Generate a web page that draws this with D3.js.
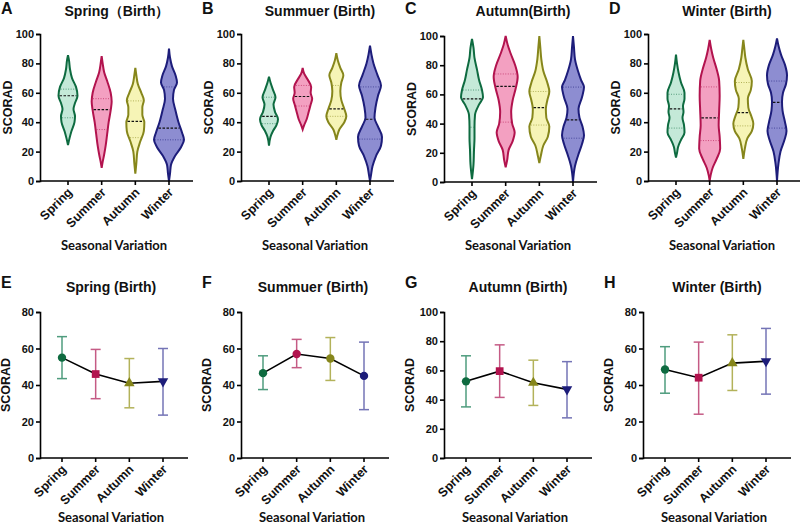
<!DOCTYPE html>
<html>
<head>
<meta charset="utf-8">
<script src="https://cdn.jsdelivr.net/npm/d3@7"></script>
<style>
  body { margin: 0; background: #fff; }
  svg { display: block; }
</style>
</head>
<body>
<div id="chart"></div>
<script>
const width = 800
const height = 526

const seasons = ["Spring", "Summer", "Autumn", "Winter"]
const violinTitles = ["Spring（Birth）", "Summuer (Birth)", "Autumn(Birth)", "Winter (Birth)"]
const lineTitles = ["Spring (Birth)", "Summuer (Birth)", "Autumn (Birth)", "Winter (Birth)"]
const violinLetters = ["A", "B", "C", "D"]
const lineLetters = ["E", "F", "G", "H"]

// violin outlines: [SCORAD, half width] from top to bottom
const violinsA = [
  [[85.5,0],[82,1],[76,2],[70,4],[64,8],[58,9.5],[53,7],[49,5.5],[44,7],[40,6.5],[34,3.5],[29,1.5],[24.5,0]],
  [[85,0],[80,1],[74,2.5],[68,5.5],[60,9],[54,10],[48,9],[40,7],[32,5.5],[24,4],[18,2.5],[13,1],[9,0]],
  [[77,0],[72,1],[66,2.5],[60,6],[55,8.5],[50,7],[45,7],[40,9],[34,8.5],[27,5],[20,2],[12,1],[5,0]],
  [[90,0],[84,1],[78,3],[72,6.5],[67,8],[62,5],[56,4],[48,6.5],[40,9.5],[33,13],[28,15],[23,12],[17,6],[11,2],[5,1],[0,0]]
]
const violinsB = [
  [[71,0],[67,1.5],[62,4],[57,6.5],[52,4.5],[47,6],[42,9],[38,7.5],[34,4],[30,1.5],[24,0]],
  [[77,0],[73,1.5],[69,5],[64,8.5],[60,8],[56,9.5],[52,8],[47,6],[42,4],[38,1.5],[35,0]],
  [[87,0],[82,1.5],[77,4],[72,7],[67,5],[61,4],[55,5],[49,8],[44,10],[40,8],[35,3],[31,1],[28,0]],
  [[92,0],[86,1.5],[80,3.5],[72,7.5],[65,11],[58,8],[50,5.5],[43,4.5],[37,8],[30,12],[24,11],[17,6],[10,2.5],[4,1],[0,0]]
]
const violinsC = [
  [[98,0],[92,1.5],[85,2.5],[77,5],[70,7],[63,10],[58,11],[53,7],[46,3],[38,2.5],[30,2.5],[22,2],[12,1.5],[2,0]],
  [[100,0],[94,2],[88,5],[80,9.5],[72,12],[64,10],[56,7],[48,5.5],[40,6.5],[34,9],[28,7],[22,3],[15,1.5],[10,0]],
  [[100,0],[92,1],[84,2],[76,4],[68,8],[62,10],[56,8],[50,6.5],[44,7],[38,10],[31,8.5],[25,4],[18,1.5],[13,0]],
  [[100,0],[92,1],[84,2],[76,5],[70,8],[65,11],[58,9],[50,5.5],[44,6.5],[38,9.5],[32,11],[26,9],[18,5],[11,2],[0,0]]
]
const violinsD = [
  [[86,0],[80,1],[74,2.5],[67,5],[60,8.5],[56,8.5],[51,7],[47,7.5],[43,6.5],[38,8],[33,8.5],[28,5],[23,2],[19,1],[16,0]],
  [[96,0],[90,1.5],[84,3.5],[76,7],[68,9.5],[58,10],[48,9.5],[38,9],[30,10],[22,10.5],[15,7],[9,3],[4,1],[0,0]],
  [[96,0],[90,1],[84,2],[76,4.5],[68,8.5],[62,7.5],[56,4.5],[50,5],[44,8],[39,10],[34,8.5],[29,4],[22,1.5],[15,0]],
  [[97,0],[92,1.5],[86,4],[79,8],[72,10],[66,9],[60,6],[54,5],[48,5.5],[40,8],[34,9.5],[28,7.5],[20,3.5],[12,1.5],[0,0]]
]
// [Q1, median, Q3] per season
const quartilesA = [[43,58,62.5],[35,48.5,56],[29.5,40.5,54.5],[28,36,64]]
const quartilesB = [[39,44,57],[51,57.5,65],[44,49,65],[28.5,42,64]]
const quartilesC = [[37.5,57,63],[41,65.5,74],[39,51,62],[30,42.5,65]]
const quartilesD = [[36,49,59],[27.5,43,64],[37.5,46.5,67],[36,53.5,68]]

// mean and SD bounds per season
const meansE = [55, 46, 41, 42]
const lowE = [43.5, 32.5, 27.5, 23.5]
const highE = [66.5, 59.5, 54.5, 60]
const meansF = [46.5, 57, 54.5, 45]
const lowF = [37.5, 49.5, 42.5, 26.5]
const highF = [56, 65, 66, 63.5]
const meansG = [52.5, 59.5, 51.5, 47]
const lowG = [35, 41.5, 36, 27.5]
const highG = [70, 77.5, 67, 66]
const meansH = [48.5, 44, 52, 53]
const lowH = [35.5, 24, 37, 35]
const highH = [61, 63.5, 67.5, 71]
const yMaxLine = [80, 80, 100, 80]

// colours per season
const strokeColors = ["#0e6b40", "#b2134e", "#86861b", "#1d1d7a"]
const fillColors = ["#c4e9d8", "#f3a0c1", "#f6f4b6", "#8d8dd1"]
const barColors = ["#4f9c7e", "#c55b85", "#b3b25a", "#7474b6"]
const markerTypes = ["circle", "square", "triangle", "down"]

const svg = d3.select("#chart")
  .append("svg")
  .attr("width", width)
  .attr("height", height)

const tickFont = "Arial, 'Liberation Sans', sans-serif"
const labelFont = "Lato, 'Open Sans', sans-serif"

function panelFrame(g, x0, xEnd, y, yTicks, x, opt) {
  // y axis
  g.append("g")
    .attr("transform", `translate(${x0},0)`)
    .call(d3.axisLeft(y).tickValues(yTicks).tickSize(4).tickPadding(2))
    .call(a => a.select(".domain").attr("stroke-width", 1.6))
    .call(a => a.selectAll(".tick line").attr("stroke-width", 1.6))
    .call(a => a.selectAll("text")
      .style("font-family", tickFont).style("font-weight", "bold")
      .style("font-size", "11px").attr("fill", "#111"))
  // x axis
  const xa = g.append("g")
    .attr("transform", `translate(0,${y.range()[0]})`)
  xa.append("line")
    .attr("x1", x0).attr("x2", xEnd)
    .attr("stroke", "#000").attr("stroke-width", 1.6)
  xa.selectAll(".xt").data(seasons).join("line")
    .attr("x1", d => x(d)).attr("x2", d => x(d))
    .attr("y1", 0).attr("y2", 4)
    .attr("stroke", "#000").attr("stroke-width", 1.6)
  xa.selectAll(".xl").data(seasons).join("text")
    .attr("transform", d => `translate(${x(d) + 5},${12}) rotate(-45)`)
    .attr("text-anchor", "end")
    .style("font-family", tickFont).style("font-weight", "bold")
    .style("font-size", "12.5px").attr("fill", "#111")
    .text(d => d)
  // labels
  g.append("text")
    .attr("transform", `translate(${opt.yLabelX},${(y.range()[0] + y.range()[1]) / 2}) rotate(-90)`)
    .attr("text-anchor", "middle")
    .style("font-family", tickFont).style("font-weight", "bold")
    .style("font-size", "12.5px").attr("fill", "#111")
    .text("SCORAD")
  g.append("text")
    .attr("x", opt.xLabelX).attr("y", opt.xLabelY)
    .attr("text-anchor", "middle")
    .style("font-family", labelFont).style("font-weight", "bold")
    .style("font-size", "13px").attr("fill", "#111")
    .text("Seasonal Variation")
  g.append("text")
    .attr("x", opt.titleX).attr("y", opt.titleY)
    .attr("text-anchor", "middle")
    .style("font-family", tickFont).style("font-weight", "bold")
    .style("font-size", "14px").attr("fill", "#111")
    .text(opt.title)
  g.append("text")
    .attr("x", opt.letterX).attr("y", opt.letterY)
    .style("font-family", tickFont).style("font-weight", "bold")
    .style("font-size", "16px").attr("fill", "#111")
    .text(opt.letter)
}

// ---------- top row: violins ----------
const violinSets = [violinsA, violinsB, violinsC, violinsD]
const quartileSets = [quartilesA, quartilesB, quartilesC, quartilesD]
const topX0 = [40, 241, 444, 648]
const topY = [[181, 34], [181, 34], [182, 36], [181, 34]]
const topTitleX = [117, 320, 523, 727]

const halfWidth = d3.scaleLinear().domain([0, 15]).range([0, 15])

function widthAt(shape, v) {
  for (let i = 0; i < shape.length - 1; i++) {
    const a = shape[i], b = shape[i + 1]
    if (v <= a[0] && v >= b[0]) {
      const t = (a[0] - v) / (a[0] - b[0])
      return a[1] + t * (b[1] - a[1])
    }
  }
  return 0
}

violinSets.forEach((shapes, p) => {
  const x0 = topX0[p]
  const g = svg.append("g")
  const y = d3.scaleLinear().domain([0, 100]).range(topY[p])
  const x = d3.scalePoint().domain(seasons).range([x0 + 28, x0 + 129])

  shapes.forEach((shape, i) => {
    const cx = x(seasons[i])
    const area = d3.area()
      .y(d => y(d[0]))
      .x0(d => cx - halfWidth(d[1]))
      .x1(d => cx + halfWidth(d[1]))
      .curve(d3.curveMonotoneY)
    g.append("path")
      .datum(shape)
      .attr("d", area)
      .attr("fill", fillColors[i])
      .attr("stroke", strokeColors[i])
      .attr("stroke-width", 2)
    const q = quartileSets[p][i]
    q.forEach((v, k) => {
      const w = halfWidth(widthAt(shape, v)) - 1
      g.append("line")
        .attr("x1", cx - w).attr("x2", cx + w)
        .attr("y1", y(v)).attr("y2", y(v))
        .attr("stroke", k === 1 ? "#111" : strokeColors[i])
        .attr("stroke-opacity", k === 1 ? 1 : 0.6)
        .attr("stroke-width", k === 1 ? 1.2 : 1)
        .attr("stroke-dasharray", k === 1 ? "2.5,1.5" : "1,1.5")
    })
  })

  panelFrame(g, x0, x0 + 153, y, [0, 20, 40, 60, 80, 100], x, {
    yLabelX: x0 - 28, xLabelX: x0 + 74, xLabelY: 250,
    titleX: topTitleX[p], titleY: 16, title: violinTitles[p],
    letterX: x0 - 39, letterY: 14, letter: violinLetters[p]
  })
})

// ---------- bottom row: mean ± SD ----------
const meanSets = [meansE, meansF, meansG, meansH]
const lowSets = [lowE, lowF, lowG, lowH]
const highSets = [highE, highF, highG, highH]
const botX0 = [40, 241, 444, 643]
const botTitleX = [111, 313, 518, 717]
const markerSets = [markerTypes, ["circle", "circle", "circle", "circle"], markerTypes, markerTypes]

meanSets.forEach((means, p) => {
  const x0 = botX0[p]
  const g = svg.append("g")
  const y = d3.scaleLinear().domain([0, yMaxLine[p]]).range([458, 312])
  const x = d3.scalePoint().domain(seasons).range([x0 + 22, x0 + 123])
  const rows = seasons.map((s, i) => ({ s, i, m: means[i], lo: lowSets[p][i], hi: highSets[p][i] }))

  // error bars
  rows.forEach(r => {
    const cx = x(r.s)
    g.append("line").attr("x1", cx).attr("x2", cx)
      .attr("y1", y(r.lo)).attr("y2", y(r.hi))
      .attr("stroke", barColors[r.i]).attr("stroke-width", 1.5)
    ;[r.lo, r.hi].forEach(v => {
      g.append("line").attr("x1", cx - 5).attr("x2", cx + 5)
        .attr("y1", y(v)).attr("y2", y(v))
        .attr("stroke", barColors[r.i]).attr("stroke-width", 1.5)
    })
  })

  g.append("path")
    .datum(rows)
    .attr("d", d3.line().x(d => x(d.s)).y(d => y(d.m)))
    .attr("fill", "none").attr("stroke", "#000").attr("stroke-width", 1.6)

  rows.forEach(r => {
    const t = markerSets[p][r.i]
    const type = t === "circle" ? d3.symbolCircle : t === "square" ? d3.symbolSquare : d3.symbolTriangle
    const size = t === "circle" ? 55 : t === "square" ? 60 : 48
    g.append("path")
      .attr("d", d3.symbol(type, size)())
      .attr("transform", `translate(${x(r.s)},${y(r.m)})` + (t === "down" ? " rotate(180)" : ""))
      .attr("fill", strokeColors[r.i])
  })

  const ticks = yMaxLine[p] === 100 ? [0, 20, 40, 60, 80, 100] : [0, 20, 40, 60, 80]
  panelFrame(g, x0, x0 + 148, y, ticks, x, {
    yLabelX: x0 - 30, xLabelX: botX0[p] + 71, xLabelY: 522,
    titleX: botTitleX[p], titleY: 292, title: lineTitles[p],
    letterX: x0 - 39, letterY: 288, letter: lineLetters[p]
  })
})
</script>
</body>
</html>
